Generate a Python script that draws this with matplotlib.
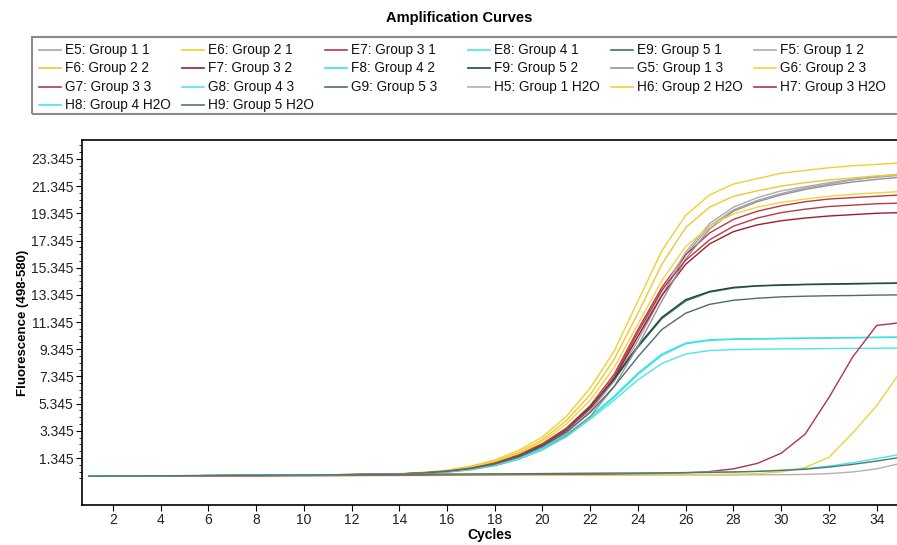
import matplotlib
matplotlib.use("Agg")
import numpy as np
import matplotlib.pyplot as plt
from matplotlib.lines import Line2D
from matplotlib.patches import Rectangle
from matplotlib.ticker import FixedLocator

plt.rcParams["font.family"] = ["Liberation Sans", "DejaVu Sans"]

# fluorescence read per cycle (cycles 1..35)
cycles = list(range(1, 36))

e5 = [0.02, 0.02, 0.03, 0.03, 0.04, 0.05, 0.05, 0.06, 0.07, 0.08, 0.09, 0.11, 0.13,
      0.15, 0.22, 0.34, 0.52, 0.85, 1.35, 2.1, 3.2, 4.8, 7.0, 10.0, 13.3, 16.3, 18.4,
      19.6, 20.3, 20.8, 21.2, 21.5, 21.8, 22.05, 22.25]
e6 = [0.0, 0.01, 0.02, 0.03, 0.04, 0.05, 0.06, 0.07, 0.08, 0.1, 0.12, 0.14, 0.16,
      0.2, 0.3, 0.45, 0.75, 1.2, 1.9, 2.9, 4.4, 6.5, 9.2, 12.9, 16.6, 19.2, 20.7,
      21.5, 21.9, 22.3, 22.5, 22.7, 22.85, 22.95, 23.05]
e7 = [0.01, 0.01, 0.02, 0.03, 0.04, 0.04, 0.05, 0.06, 0.07, 0.08, 0.1, 0.12, 0.14,
      0.17, 0.25, 0.39, 0.62, 1.0, 1.6, 2.4, 3.55, 5.2, 7.5, 10.8, 13.9, 16.3, 17.9,
      18.9, 19.5, 19.9, 20.2, 20.4, 20.5, 20.6, 20.7]
e8 = [0.0, 0.01, 0.02, 0.03, 0.04, 0.05, 0.06, 0.07, 0.08, 0.09, 0.1, 0.12, 0.14,
      0.16, 0.24, 0.36, 0.57, 0.9, 1.4, 2.1, 3.1, 4.4, 5.9, 7.6, 9.0, 9.8, 10.05,
      10.1, 10.12, 10.15, 10.17, 10.19, 10.21, 10.23, 10.25]
e9 = [0.01, 0.02, 0.02, 0.03, 0.04, 0.05, 0.06, 0.07, 0.08, 0.09, 0.11, 0.13, 0.15,
      0.17, 0.25, 0.38, 0.6, 0.95, 1.5, 2.3, 3.4, 5.0, 7.1, 9.5, 11.6, 12.9, 13.55,
      13.85, 14.0, 14.05, 14.1, 14.12, 14.15, 14.18, 14.2]
f5 = [0.02, 0.03, 0.03, 0.04, 0.04, 0.05, 0.06, 0.06, 0.07, 0.08, 0.09, 0.11, 0.13,
      0.15, 0.23, 0.35, 0.55, 0.88, 1.4, 2.2, 3.35, 5.0, 7.3, 10.3, 13.6, 16.5, 18.6,
      19.8, 20.5, 21.0, 21.3, 21.6, 21.85, 22.0, 22.15]
f6 = [0.01, 0.01, 0.02, 0.03, 0.04, 0.05, 0.06, 0.07, 0.08, 0.09, 0.11, 0.13, 0.15,
      0.18, 0.27, 0.42, 0.7, 1.1, 1.75, 2.7, 4.1, 6.0, 8.6, 12.0, 15.6, 18.3, 19.8,
      20.6, 21.0, 21.35, 21.6, 21.8, 21.95, 22.1, 22.2]
f7 = [0.01, 0.02, 0.02, 0.03, 0.03, 0.04, 0.05, 0.06, 0.07, 0.08, 0.09, 0.11, 0.13,
      0.16, 0.24, 0.37, 0.58, 0.93, 1.5, 2.3, 3.4, 5.0, 7.2, 10.3, 13.3, 15.6, 17.1,
      18.0, 18.5, 18.8, 19.0, 19.15, 19.25, 19.35, 19.4]
f8 = [0.01, 0.01, 0.02, 0.03, 0.04, 0.05, 0.06, 0.07, 0.08, 0.09, 0.1, 0.12, 0.14,
      0.16, 0.23, 0.35, 0.55, 0.88, 1.37, 2.05, 3.0, 4.3, 5.8, 7.5, 8.9, 9.75, 10.0,
      10.08, 10.1, 10.13, 10.15, 10.17, 10.19, 10.21, 10.22]
f9 = [0.01, 0.02, 0.03, 0.03, 0.04, 0.05, 0.06, 0.07, 0.08, 0.09, 0.11, 0.13, 0.15,
      0.17, 0.25, 0.38, 0.6, 0.96, 1.5, 2.3, 3.45, 5.1, 7.2, 9.6, 11.7, 13.0, 13.6,
      13.9, 14.02, 14.08, 14.12, 14.15, 14.18, 14.2, 14.22]
g5 = [0.02, 0.02, 0.03, 0.03, 0.04, 0.04, 0.05, 0.06, 0.07, 0.08, 0.09, 0.1, 0.12,
      0.14, 0.2, 0.31, 0.48, 0.78, 1.25, 1.95, 3.0, 4.4, 6.6, 9.6, 12.9, 16.0, 18.2,
      19.5, 20.2, 20.7, 21.1, 21.4, 21.65, 21.85, 22.0]
g6 = [0.01, 0.02, 0.02, 0.03, 0.04, 0.05, 0.06, 0.07, 0.08, 0.09, 0.1, 0.12, 0.14,
      0.17, 0.25, 0.4, 0.65, 1.05, 1.65, 2.55, 3.85, 5.6, 8.0, 11.2, 14.4, 16.9, 18.4,
      19.3, 19.8, 20.15, 20.4, 20.6, 20.75, 20.85, 20.95]
g7 = [0.01, 0.01, 0.02, 0.02, 0.03, 0.04, 0.05, 0.06, 0.07, 0.08, 0.1, 0.12, 0.14,
      0.17, 0.25, 0.38, 0.6, 0.97, 1.55, 2.35, 3.45, 5.0, 7.3, 10.6, 13.7, 15.9, 17.4,
      18.4, 19.0, 19.4, 19.65, 19.85, 19.95, 20.05, 20.1]
g8 = [0.0, 0.01, 0.02, 0.03, 0.03, 0.04, 0.05, 0.06, 0.07, 0.08, 0.09, 0.11, 0.13,
      0.15, 0.22, 0.33, 0.52, 0.82, 1.28, 1.95, 2.9, 4.2, 5.6, 7.1, 8.3, 9.0, 9.25,
      9.32, 9.35, 9.37, 9.38, 9.4, 9.41, 9.42, 9.43]
g9 = [0.01, 0.02, 0.02, 0.03, 0.04, 0.05, 0.05, 0.06, 0.07, 0.08, 0.1, 0.12, 0.14,
      0.16, 0.24, 0.36, 0.57, 0.9, 1.42, 2.2, 3.25, 4.7, 6.6, 8.8, 10.8, 12.0, 12.65,
      12.95, 13.1, 13.2, 13.25, 13.28, 13.3, 13.33, 13.35]
h5 = [0.0, 0.0, 0.01, 0.01, 0.02, 0.02, 0.03, 0.03, 0.04, 0.04, 0.05, 0.05, 0.06,
      0.06, 0.06, 0.07, 0.07, 0.07, 0.08, 0.08, 0.08, 0.09, 0.09, 0.09, 0.1, 0.1, 0.1,
      0.1, 0.11, 0.12, 0.14, 0.2, 0.32, 0.55, 0.95]
h6 = [0.0, 0.01, 0.01, 0.02, 0.02, 0.03, 0.03, 0.04, 0.04, 0.05, 0.05, 0.06, 0.06,
      0.07, 0.07, 0.08, 0.08, 0.09, 0.09, 0.1, 0.1, 0.11, 0.11, 0.12, 0.12, 0.13, 0.14,
      0.16, 0.2, 0.32, 0.65, 1.4, 3.2, 5.2, 7.7]
h7 = [0.01, 0.01, 0.02, 0.02, 0.03, 0.03, 0.04, 0.04, 0.05, 0.05, 0.06, 0.07, 0.08,
      0.09, 0.1, 0.11, 0.12, 0.13, 0.14, 0.15, 0.16, 0.17, 0.18, 0.2, 0.22, 0.26, 0.35,
      0.55, 0.95, 1.7, 3.1, 5.8, 8.8, 11.1, 11.3]
h8 = [0.01, 0.02, 0.03, 0.04, 0.05, 0.06, 0.07, 0.08, 0.09, 0.1, 0.11, 0.12, 0.13,
      0.14, 0.15, 0.16, 0.17, 0.18, 0.19, 0.2, 0.21, 0.22, 0.23, 0.24, 0.26, 0.28, 0.3,
      0.33, 0.37, 0.45, 0.56, 0.75, 1.0, 1.3, 1.62]
h9 = [0.01, 0.02, 0.03, 0.04, 0.05, 0.06, 0.07, 0.08, 0.09, 0.1, 0.11, 0.12, 0.13,
      0.14, 0.15, 0.16, 0.17, 0.18, 0.19, 0.2, 0.21, 0.22, 0.23, 0.24, 0.25, 0.27, 0.29,
      0.32, 0.36, 0.43, 0.52, 0.68, 0.88, 1.12, 1.4]

labels = ["E5: Group 1 1", "E6: Group 2 1", "E7: Group 3 1", "E8: Group 4 1",
          "E9: Group 5 1", "F5: Group 1 2", "F6: Group 2 2", "F7: Group 3 2",
          "F8: Group 4 2", "F9: Group 5 2", "G5: Group 1 3", "G6: Group 2 3",
          "G7: Group 3 3", "G8: Group 4 3", "G9: Group 5 3", "H5: Group 1 H2O",
          "H6: Group 2 H2O", "H7: Group 3 H2O", "H8: Group 4 H2O", "H9: Group 5 H2O"]
series = [e5, e6, e7, e8, e9, f5, f6, f7, f8, f9, g5, g6, g7, g8, g9, h5, h6, h7, h8, h9]
colors = ["#a4a4a4", "#f2d02c", "#bf3646", "#48e6e6", "#3f6d6d",
          "#ababab", "#efc832", "#9a1f2c", "#3fe0e2", "#1d4a42",
          "#939393", "#f4d43a", "#b5394a", "#52e4e8", "#4e6c6c",
          "#b2b2b2", "#f0d23a", "#b03444", "#46e4ea", "#547474"]

y_ticks = [1.345, 3.345, 5.345, 7.345, 9.345, 11.345, 13.345, 15.345, 17.345,
           19.345, 21.345, 23.345]
x_ticks = list(range(2, 36, 2))

W, H = 897, 545
fig = plt.figure(figsize=(W / 100, H / 100), dpi=100)
ax = fig.add_axes([82 / W, 1 - 505 / H, 1 - 82 / W, (505 - 140) / H])

for vals, col in zip(series, colors):
    ax.plot(cycles, vals, color=col, lw=1.0)

ax.set_xlim(0.71, 34.85)
ax.set_ylim(-2.11, 24.74)
ax.xaxis.set_major_locator(FixedLocator(x_ticks))
ax.yaxis.set_major_locator(FixedLocator(y_ticks))
ax.yaxis.set_minor_locator(FixedLocator(np.arange(-0.155, 24.5, 0.5)))
ax.set_yticklabels([f"{t:.3f}" for t in y_ticks])
ax.tick_params(axis="both", which="major", direction="out", length=4, width=0.8,
               labelsize=10, labelcolor="#222222", pad=2)
ax.tick_params(axis="y", which="minor", direction="out", length=2.5, width=0.6)
ax.spines["right"].set_visible(False)
for s in ("left", "bottom", "top"):
    ax.spines[s].set_linewidth(1.2)

ax.set_xlabel("Cycles", fontsize=10, fontweight="bold")
ax.xaxis.set_label_coords(0.5, (505 - 528) / (505 - 140))
ax.set_ylabel("Fluorescence (498-580)", fontsize=9.5, fontweight="bold")
ax.yaxis.set_label_coords((29 - 82) / (W - 82), 0.5)

fig.text(459 / W, 1 - 18 / H, "Amplification Curves", ha="center", va="center",
         fontsize=10.5, fontweight="bold")

# legend drawn as a grid (row-major like the instrument software)
fig.add_artist(Rectangle((32 / W, 1 - 114 / H), 1.0, (114 - 37) / H,
                         transform=fig.transFigure, fill=False,
                         edgecolor="#8a8a8a", lw=1.5))
for i, (lab, col) in enumerate(zip(labels, colors)):
    r, c = divmod(i, 6)
    x0 = 39 + 143 * c
    yy = 1 - (50 + 18.4 * r) / H
    fig.add_artist(Line2D([x0 / W, (x0 + 22) / W], [yy, yy], color=col, lw=1.2,
                          transform=fig.transFigure))
    fig.text((x0 + 26) / W, yy, lab, ha="left", va="center", fontsize=9.8,
             color="#111111")

fig.savefig("out.png", dpi=100)
